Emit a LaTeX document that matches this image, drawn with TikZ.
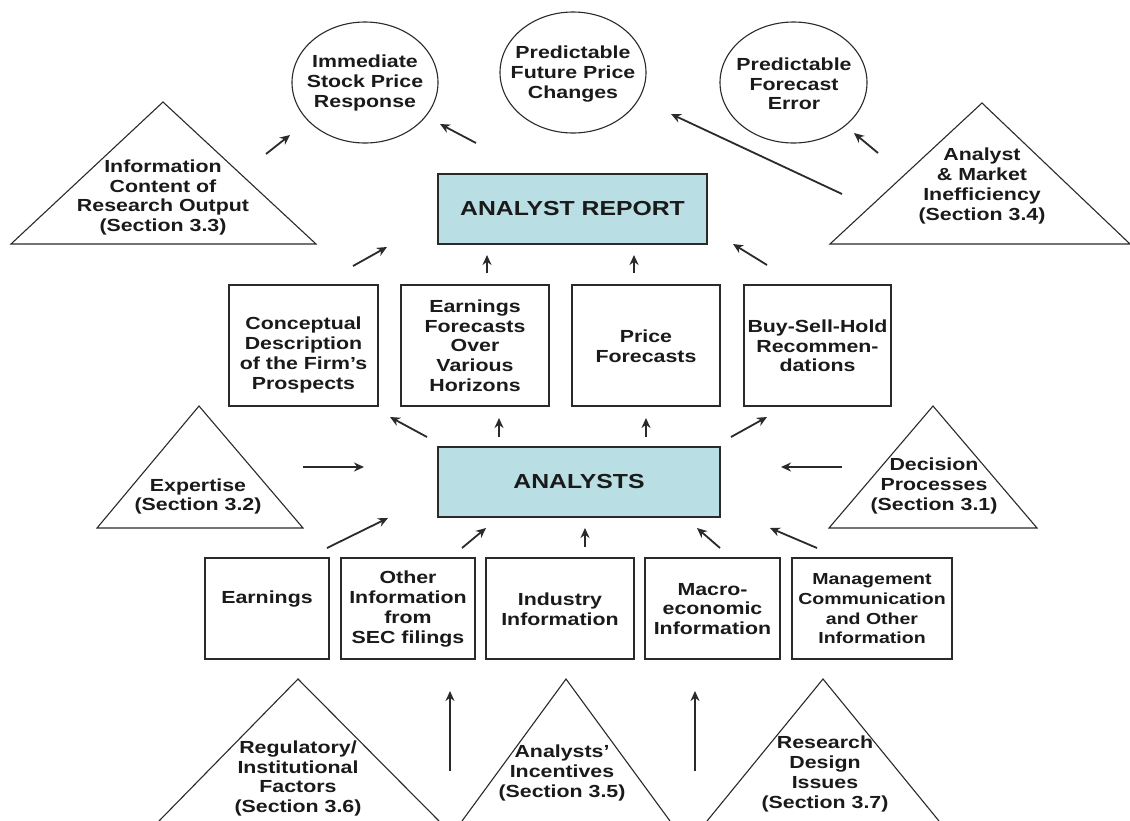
\documentclass[tikz,border=0pt]{standalone}
\usepackage{fontspec}
\setmainfont{Liberation Sans}[FakeStretch=1.22]
\usetikzlibrary{arrows.meta,shapes.geometric}
\definecolor{boxblue}{HTML}{B9DEE3}
\definecolor{linec}{HTML}{2A2A2A}
\definecolor{txtc}{HTML}{1A1A1A}
\tikzset{
  txt/.style={font=\bfseries\fontsize{17.5pt}{19.7pt}\selectfont, text=txtc, align=center, inner sep=0pt},
  smalltxt/.style={font=\bfseries\fontsize{16pt}{19.7pt}\selectfont, text=txtc, align=center, inner sep=0pt},
  bigtxt/.style={font=\bfseries\fontsize{20.3pt}{22pt}\selectfont, text=txtc, align=center, inner sep=0pt},
  box/.style={draw=linec, line width=1.4pt, rectangle, inner sep=0pt},
  hub/.style={box, fill=boxblue},
  oval/.style={draw=linec, line width=1.1pt, ellipse, inner sep=0pt},
  tri/.style={draw=linec, line width=1.1pt, line join=miter},
  arr/.style={draw=linec, line width=1.8pt, -{Stealth[length=10pt,width=9pt]}}
}
\begin{document}
\begin{tikzpicture}[x=1pt, y=-1pt]
\useasboundingbox[fill=white] (0,0) rectangle (1130,820);

% ---- outcome ellipses
\node[oval, minimum width=146pt, minimum height=121pt] (c1) at (365,82.5) {};
\node[txt] (c1t) at (365,83) {Immediate\\Stock Price\\Response};
\node[oval, minimum width=146pt, minimum height=121pt] (c2) at (573,72.5) {};
\node[txt] (c2t) at (573,74) {Predictable\\Future Price\\Changes};
\node[oval, minimum width=147pt, minimum height=121pt] (c3) at (793.5,82.5) {};
\node[txt] (c3t) at (794,84) {Predictable\\Forecast\\Error};

% ---- triangles (research areas)
\draw[tri] (163,102) -- (11,244) -- (316,244) -- cycle;
\node[txt] (t1) at (163,197.5) {Information\\Content of\\Research Output\\(Section 3.3)};
\draw[tri] (982,103) -- (830,244) -- (1130,244) -- cycle;
\node[txt] (t2) at (982,186) {Analyst\\\& Market\\Inefficiency\\(Section 3.4)};
\draw[tri] (199,406) -- (97,528) -- (303,528) -- cycle;
\node[txt] (t3) at (198,496.5) {Expertise\\(Section 3.2)};
\draw[tri] (933,406) -- (829,528) -- (1037,528) -- cycle;
\node[txt] (t4) at (934,486) {Decision\\Processes\\(Section 3.1)};
\draw[tri] (159,821) -- (298,679) -- (439,821);
\node[txt] (t5) at (298,778.5) {Regulatory/\\Institutional\\Factors\\(Section 3.6)};
\draw[tri] (462,821) -- (566,679) -- (670,821);
\node[txt] (t6) at (562,773) {Analysts'\\Incentives\\(Section 3.5)};
\draw[tri] (707,821) -- (823,679) -- (939,821);
\node[txt] (t7) at (825,774) {Research\\Design\\Issues\\(Section 3.7)};

% ---- central boxes
\node[hub, minimum width=269pt, minimum height=70pt] (report) at (572.5,209) {};
\node[bigtxt] (reportt) at (572.5,209) {ANALYST REPORT};
\node[hub, minimum width=282pt, minimum height=70pt] (analysts) at (579,482) {};
\node[bigtxt] (analystst) at (579,482) {ANALYSTS};

% ---- research output boxes
\node[box, minimum width=149pt, minimum height=121pt] (conc) at (303.5,345.5) {};
\node[txt] (conct) at (303.5,355) {Conceptual\\Description\\of the Firm's\\Prospects};
\node[box, minimum width=148pt, minimum height=121pt] (ef) at (475,345.5) {};
\node[txt] (eft) at (475,345.5) {Earnings\\Forecasts\\Over\\Various\\Horizons};
\node[box, minimum width=148pt, minimum height=121pt] (pf) at (646,345.5) {};
\node[txt] (pft) at (646,346) {Price\\Forecasts};
\node[box, minimum width=147pt, minimum height=121pt] (bsh) at (817.5,345.5) {};
\node[txt] (bsht) at (817.5,346) {Buy-Sell-Hold\\Recommen-\\dations};

% ---- information input boxes
\node[box, minimum width=124pt, minimum height=101pt] (earn) at (267,608.5) {};
\node[txt] (earnt) at (267,599) {Earnings};
\node[box, minimum width=134pt, minimum height=101pt] (other) at (408,608.5) {};
\node[txt] (othert) at (408,609) {Other\\Information\\from\\SEC filings};
\node[box, minimum width=148pt, minimum height=101pt] (ind) at (560,608.5) {};
\node[txt] (indt) at (560,609) {Industry\\Information};
\node[box, minimum width=135pt, minimum height=101pt] (macro) at (712.5,608.5) {};
\node[txt] (macrot) at (712.5,609) {Macro-\\economic\\Information};
\node[box, minimum width=160pt, minimum height=101pt] (mgmt) at (872,608.5) {};
\node[smalltxt] (mgmtt) at (872,609) {Management\\Communication\\and Other\\Information};

% ---- arrows (free-floating, between named coordinates)
\foreach \n/\xa/\ya/\xb/\yb in {
  a1/266/154/290/135,
  a2/476/143/440/124,
  a3/842/194/671/114,
  a4/878/153/854/133,
  a5/353/266/387/247,
  a6/487/273/487/255,
  a7/634/273/634/255,
  a8/767/265/733/244,
  a9/427/437/390/417,
  a10/499/437/499/418,
  a11/646/437/646/418,
  a12/731/437/767/417,
  a13/303/467/364/467,
  a14/842/467/781/467,
  a15/327/548/388/518,
  a16/462/548/486/528,
  a17/585/547/585/528,
  a18/720/548/697/528,
  a19/817/548/770/528,
  a20/450/771/450/691,
  a21/695/771/695/691}{
  \coordinate (\n s) at (\xa,\ya);
  \coordinate (\n e) at (\xb,\yb);
  \draw[arr] (\n s) -- (\n e);
}
\end{tikzpicture}
\end{document}
